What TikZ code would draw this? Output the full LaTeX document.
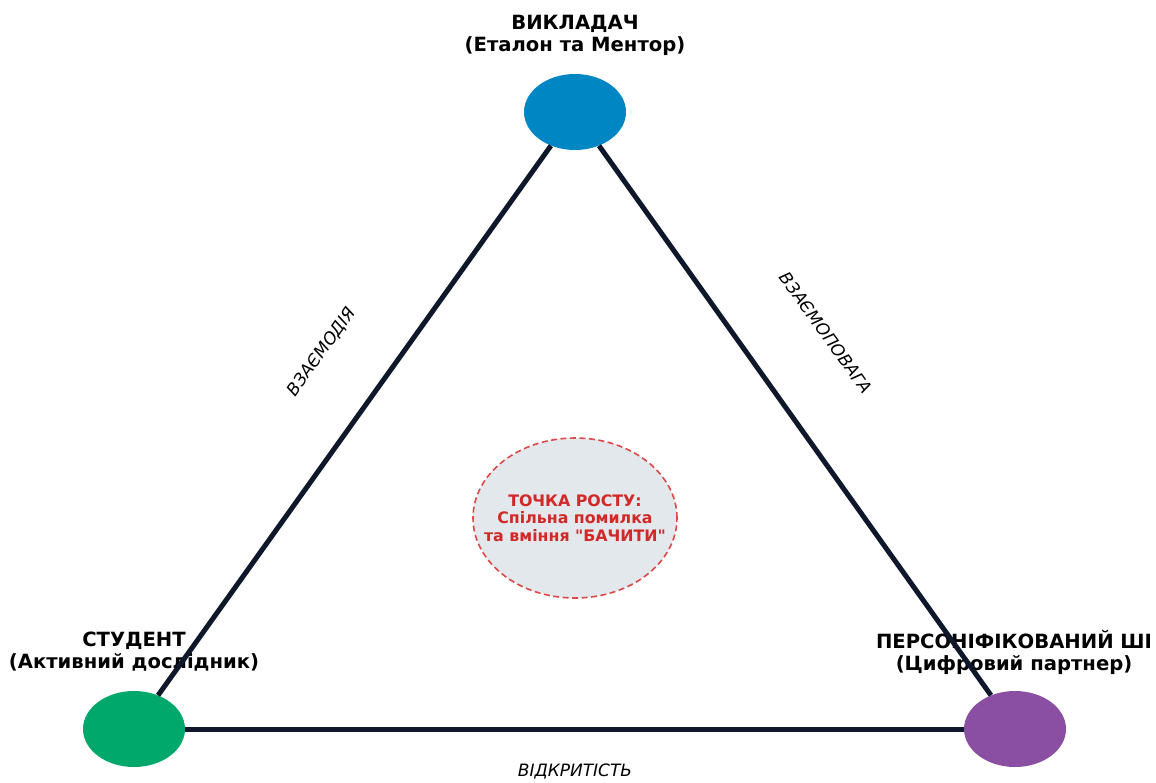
\documentclass[tikz,border=0pt]{standalone}
\usepackage{fontspec}
\setmainfont{DejaVu Sans}[Ligatures=TeXOff]
\usetikzlibrary{shapes.geometric}

\definecolor{teacherblue}{RGB}{0,134,195}
\definecolor{studentgreen}{RGB}{0,168,107}
\definecolor{partnerpurple}{RGB}{138,79,162}
\definecolor{linknavy}{RGB}{14,24,42}
\definecolor{growthfill}{RGB}{226,232,235}
\definecolor{growthline}{RGB}{222,72,72}
\definecolor{growthred}{RGB}{210,40,40}

\begin{document}
\begin{tikzpicture}[x=1pt,y=-1pt,
    vertex/.style={ellipse,minimum width=102pt,minimum height=76pt,inner sep=0pt},
    link/.style={draw=linknavy,line width=5pt},
    role/.style={align=center,font=\bfseries\fontsize{19.6}{22}\selectfont},
    edgelabel/.style={font=\itshape\fontsize{17}{20}\selectfont},
    growth/.style={ellipse,minimum width=204pt,minimum height=160pt,inner sep=0pt,
        fill=growthfill,draw=growthline,dash pattern=on 6pt off 3.5pt,line width=1.6pt},
    growthtext/.style={align=center,text=growthred,
        font=\bfseries\fontsize{15.8}{17.5}\selectfont}]
        \useasboundingbox (0,0) rectangle (1156,782);

        \node(1) at (575,112) [vertex,fill=teacherblue] {};
        \node(2) at (134,729) [vertex,fill=studentgreen] {};
        \node(3) at (1015,729) [vertex,fill=partnerpurple] {};

        \node(4) at (575,35) [role] {ВИКЛАДАЧ\\(Еталон та Ментор)};
        \node(5) at (134,652) [role] {СТУДЕНТ\\(Активний дослідник)};
        \node(6) at (1014,652) [role] {ПЕРСОНІФІКОВАНИЙ ШІ\\(Цифровий партнер)};

        \node(7) at (575,518) [growth] {};
        \node(8) at (7) [growthtext] {ТОЧКА РОСТУ:\\Спільна помилка\\та вміння "БАЧИТИ"};

        \draw [link] (1) -- (2);
        \draw [link] (1) -- (3);
        \draw [link] (2) -- (3);

        \node(9) at (322,352) [edgelabel,rotate=54.4] {ВЗАЄМОДІЯ};
        \node(10) at (826,333) [edgelabel,rotate=-54.4] {ВЗАЄМОПОВАГА};
        \node(11) at (575,772) [edgelabel] {ВІДКРИТІСТЬ};
    \end{tikzpicture}
\end{document}
